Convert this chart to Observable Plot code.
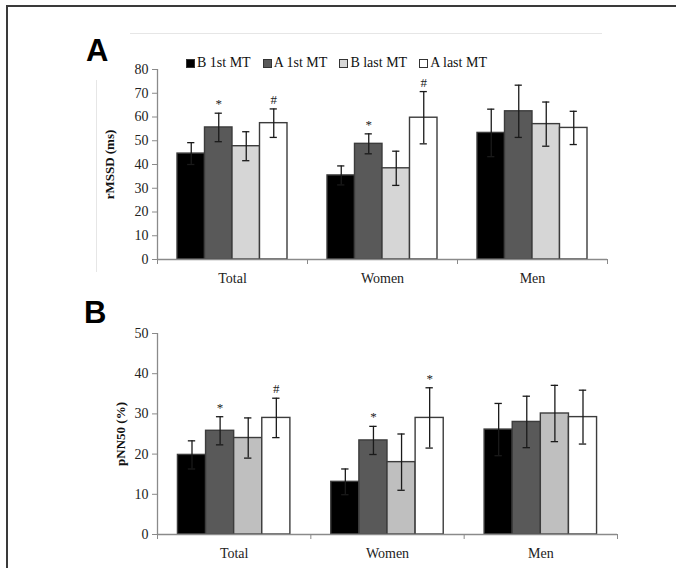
<!DOCTYPE html>
<html>
<head>
<meta charset="utf-8">
<script src="https://cdn.jsdelivr.net/npm/d3@7"></script>
<script src="https://cdn.jsdelivr.net/npm/@observablehq/plot@0.6"></script>
<style>
  html, body { margin: 0; padding: 0; background: #fff; }
  #wrap { position: relative; width: 676px; height: 568px; overflow: hidden; background: #fff;
          font-family: "Liberation Serif", "Times New Roman", serif; }
  .frameTop { position: absolute; left: 6px; top: 5px; width: 670px; height: 2px; background: #3a3a3a; }
  .frameLeft { position: absolute; left: 6px; top: 5px; width: 2px; height: 563px; background: #3a3a3a; }
  .faintH { position: absolute; left: 130px; top: 33px; width: 472px; height: 1px; background: #e6e6e6; }
  .faintV { position: absolute; left: 96px; top: 80px; width: 1px; height: 192px; background: #e6e6e6; }
  .panelLetter { position: absolute; font-family: "Liberation Sans", Arial, sans-serif; font-weight: bold;
                 font-size: 31px; line-height: 1; color: #000; }
  .plotA, .plotB { position: absolute; left: 0; }
  .plotA { top: 0; } .plotB { top: 290px; }
  #legend { position: absolute; left: 186px; top: 55px; display: flex; gap: 12px; font-size: 14px;
            color: #111; line-height: 16px; white-space: nowrap; }
  #legend .item { display: flex; align-items: center; gap: 2px; }
  #legend .sw { width: 7px; height: 7px; border: 1px solid #333; }
</style>
</head>
<body>
<div id="wrap">
  <div class="frameTop"></div>
  <div class="frameLeft"></div>
  <div class="faintH"></div>
  <div class="faintV"></div>
  <div class="panelLetter" style="left:86px; top:35px;">A</div>
  <div class="panelLetter" style="left:84px; top:297px;">B</div>
  <div id="legend"></div>
</div>
<script>
// ---------- data ----------
const groups = ["Total", "Women", "Men"];
const series = ["B 1st MT", "A 1st MT", "B last MT", "A last MT"];

// Panel A: rMSSD (ms), rows = groups, columns = series
const rmssdMean = [
  [44.6, 55.6, 47.7, 57.4],
  [35.4, 48.7, 38.4, 59.7],
  [53.3, 62.4, 57.0, 55.4]
];
const rmssdErr = [
  [4.6, 6.0, 6.1, 6.0],
  [4.0, 4.2, 7.2, 11.0],
  [10.0, 11.0, 9.3, 7.0]
];
const rmssdSig = [
  ["Total", "A 1st MT", "*"],
  ["Total", "A last MT", "#"],
  ["Women", "A 1st MT", "*"],
  ["Women", "A last MT", "#"]
];
const rmssdTicks = [0, 10, 20, 30, 40, 50, 60, 70, 80];
const rmssdLabel = "rMSSD (ms)";

// Panel B: pNN50 (%)
const pnn50Mean = [
  [19.8, 25.8, 24.0, 29.0],
  [13.1, 23.4, 18.0, 29.0],
  [26.1, 28.0, 30.1, 29.2]
];
const pnn50Err = [
  [3.5, 3.5, 5.0, 4.9],
  [3.2, 3.5, 7.0, 7.5],
  [6.5, 6.4, 7.0, 6.7]
];
const pnn50Sig = [
  ["Total", "A 1st MT", "*"],
  ["Total", "A last MT", "#"],
  ["Women", "A 1st MT", "*"],
  ["Women", "A last MT", "*"]
];
const pnn50Ticks = [0, 10, 20, 30, 40, 50];
const pnn50Label = "pNN50 (%)";

// ---------- styling ----------
const fillA = ["#000000", "#595959", "#d6d6d6", "#ffffff"];
const fillB = ["#000000", "#595959", "#bfbfbf", "#ffffff"];
const barW = 27.5 / 150;       // bar width as fraction of a category slot
const capHalf = 0.024;

function rows(means, errs) {
  const out = [];
  groups.forEach((g, gi) => series.forEach((s, si) => {
    const x1 = gi + 0.5 + (si - 2) * barW;
    out.push({group: g, series: s, si, x1, x2: x1 + barW, xc: x1 + barW / 2,
              v: means[gi][si], lo: means[gi][si] - errs[gi][si], hi: means[gi][si] + errs[gi][si]});
  }));
  return out;
}

function panel({means, errs, sig, ticks, label, fills, height, mt, mb, mr, labelDx, cls}) {
  const data = rows(means, errs);
  const sigData = sig.map(([g, s, sym]) => {
    const r = data.find(d => d.group === g && d.series === s);
    return {xc: r.xc, y: r.hi, sym};
  });
  const ymax = ticks[ticks.length - 1];
  const p = Plot.plot({
    width: 676, height,
    marginTop: mt, marginBottom: mb, marginLeft: 157, marginRight: mr,
    style: {fontFamily: "'Liberation Serif', 'Times New Roman', serif", fontSize: "14px", color: "#222", background: "transparent", overflow: "visible"},
    x: {type: "linear", domain: [0, groups.length], axis: null},
    y: {domain: [0, ymax], axis: null},
    marks: [
      Plot.rectY(data, {x1: "x1", x2: "x2", y1: 0, y2: "v", fill: d => fills[d.si], stroke: "#3c3c3c", strokeWidth: 1.4}),
      Plot.ruleX(data, {x: "xc", y1: "lo", y2: "hi", stroke: "#1a1a1a", strokeWidth: 1.3}),
      Plot.ruleY(data, {y: "hi", x1: d => d.xc - capHalf, x2: d => d.xc + capHalf, stroke: "#1a1a1a", strokeWidth: 1.3}),
      Plot.ruleY(data, {y: "lo", x1: d => d.xc - capHalf, x2: d => d.xc + capHalf, stroke: "#1a1a1a", strokeWidth: 1.3}),
      Plot.text(sigData, {x: "xc", y: "y", text: "sym", lineAnchor: "bottom", dy: -5, fontSize: 13, fill: "#222"}),
      Plot.ruleX([0], {y1: 0, y2: ymax, stroke: "#8a8a8a", strokeWidth: 1.3}),
      Plot.ruleY([0], {stroke: "#8a8a8a", strokeWidth: 1.3}),
      Plot.axisY({ticks, tickSize: 5, tickPadding: 4, stroke: "#8a8a8a", fill: "#222", label: null}),
      Plot.axisX({ticks: d3.range(groups.length + 1), tickFormat: () => "", tickSize: 5, stroke: "#8a8a8a", label: null}),
      Plot.text(groups, {x: (d, i) => i + 0.5, frameAnchor: "bottom", dy: 23, fontSize: 14, fill: "#222"}),
      Plot.text([label], {frameAnchor: "left", textAnchor: "middle", rotate: -90, dx: labelDx, fontWeight: "bold", fontSize: 13, fill: "#111"})
    ]
  });
  p.classList.add(cls);
  return p;
}

const wrap = document.getElementById("wrap");
wrap.appendChild(panel({means: rmssdMean, errs: rmssdErr, sig: rmssdSig, ticks: rmssdTicks, label: rmssdLabel,
  fills: fillA, height: 290, mt: 69, mb: 31, mr: 69, labelDx: -48, cls: "plotA"}));
wrap.appendChild(panel({means: pnn50Mean, errs: pnn50Err, sig: pnn50Sig, ticks: pnn50Ticks, label: pnn50Label,
  fills: fillB, height: 278, mt: 43, mb: 34, mr: 59, labelDx: -37, cls: "plotB"}));

// legend
const legend = document.getElementById("legend");
series.forEach((s, i) => {
  const item = document.createElement("div");
  item.className = "item";
  const sw = document.createElement("div");
  sw.className = "sw";
  sw.style.background = fillA[i];
  const t = document.createElement("span");
  t.textContent = s;
  item.appendChild(sw); item.appendChild(t);
  legend.appendChild(item);
});
</script>
</body>
</html>
